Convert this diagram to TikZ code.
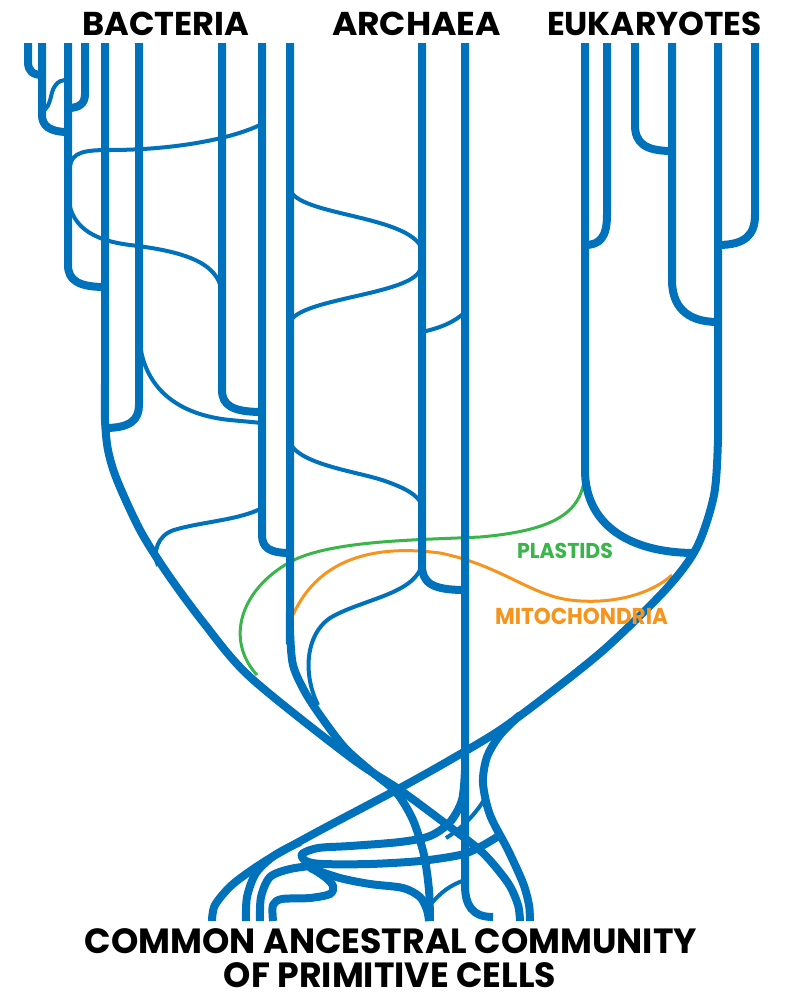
\documentclass[tikz,border=0pt]{standalone}
\usepackage{fontspec}
\newfontfamily\pop{Poppins}
\definecolor{tblue}{RGB}{0,114,188}
\definecolor{tgreen}{RGB}{57,181,74}
\definecolor{torange}{RGB}{247,148,29}
\newcommand{\fitw}[3]{\resizebox{#1}{\height}{\fontsize{#2}{#2}\selectfont #3}}
\begin{document}
\begin{tikzpicture}[x=1pt,y=-1pt,
  trunk/.style={draw=tblue,line width=8pt,line join=round},
  twig/.style={draw=tblue,line width=4pt,line join=round},
  plast/.style={draw=tgreen,line width=3pt},
  mito/.style={draw=torange,line width=3pt},
  lbl/.style={inner sep=0pt,font=\pop\bfseries}]
\fill[white] (0,0) rectangle (785,1002);
\useasboundingbox (0,0) rectangle (785,1002);

% plastids and mitochondria (behind)
\draw[plast] (585,472) .. controls (583,510) and (560,530) .. (480,537) .. controls (420,540) and (330,540) .. (290,562) .. controls (240,590) and (225,640) .. (257,675);
\draw[mito] (672,575) .. controls (650,595) and (610,605) .. (570,600) .. controls (530,595) and (500,565) .. (440,553) .. controls (380,545) and (320,555) .. (293,615);

% Bacteria
\draw[trunk] (28,43) -- (28,62) .. controls (28,71) and (33,75) .. (42,75);
\draw[trunk] (42,43) -- (42,115) .. controls (42,126) and (50,132) .. (68,132);
\draw[trunk] (85,43) -- (85,94) .. controls (85,103) and (80,108) .. (68,108);
\draw[trunk] (68,43) -- (68,265) .. controls (68,280) and (78,287) .. (105,287);
\draw[twig] (42,112) .. controls (52,106) and (50,92) .. (55,86) .. controls (58,81) and (62,80) .. (68,80);
\draw[trunk] plot[smooth] coordinates {(105,43) (105,380) (105,420) (108,450) (117,480) (140,530) (167,573) (203,622) (250,677) (350,757) (400,790) (450,827) (483,853) (508,883) (518,905) (520,921)};
\draw[trunk] (139,43) -- (139,405) .. controls (139,420) and (130,428) .. (105,428);
\draw[trunk] (222,43) -- (222,390) .. controls (222,405) and (232,412) .. (262,412);
\draw[trunk] (262,43) -- (262,535) .. controls (262,548) and (270,553) .. (290,553);
\draw[trunk] plot[smooth] coordinates {(290,43) (290,600) (290,630) (293,665) (305,692) (322,718) (345,748) (372,772) (396,792) (413,820) (424,855) (429,890) (430,921)};
\draw[twig] (70,166) .. controls (72,152) and (85,150) .. (110,150) .. controls (170,150) and (230,140) .. (262,124);
\draw[twig] (68,195) .. controls (70,225) and (90,240) .. (130,245) .. controls (190,252) and (222,265) .. (222,297);
\draw[twig] (139,335) .. controls (142,390) and (180,415) .. (230,420) -- (262,423);
\draw[twig] (262,508) .. controls (240,520) and (200,522) .. (174,530) .. controls (158,535) and (152,552) .. (158,566);

% Archaea
\draw[trunk] (422,43) -- (422,565) .. controls (422,583) and (432,590) .. (465,590);
\draw[trunk] (465,43) -- (465,885) .. controls (465,905) and (472,917) .. (493,917);
\draw[twig] (290,190) .. controls (300,215) and (400,215) .. (420,245) -- (420,270) .. controls (410,295) and (300,298) .. (290,322);
\draw[twig] (422,332) .. controls (440,328) and (455,322) .. (465,312);
\draw[twig] (290,443) .. controls (300,465) and (360,472) .. (385,481) .. controls (405,488) and (418,495) .. (422,505);
\draw[twig] (421,568) .. controls (410,595) and (360,600) .. (330,618) .. controls (305,635) and (303,675) .. (318,705);

% Eukaryotes
\draw[trunk] (585,43) -- (585,470) .. controls (585,525) and (630,553) .. (695,553);
\draw[trunk] (607,43) -- (607,215) .. controls (607,237) and (600,245) .. (585,245);
\draw[trunk] (635,43) -- (635,125) .. controls (635,143) and (645,151) .. (672,151);
\draw[trunk] (672,43) -- (672,280) .. controls (672,305) and (685,322) .. (718,322);
\draw[trunk] (755,43) -- (755,215) .. controls (755,235) and (745,245) .. (718,245);
\draw[trunk] plot[smooth] coordinates {(718,43) (718,400) (718,440) (714,495) (697,547) (667,588) (607,647) (550,693) (500,730) (450,760) (400,788) (317,832) (267,860) (233,884) (215,905) (212,921)};

% bottom tangle
\draw[trunk] plot[smooth] coordinates {(520,715) (500,735) (487,757) (483,783) (490,815) (508,850) (523,883) (529,905) (530,921)};
\draw[trunk] plot[smooth] coordinates {(465,770) (462,800) (450,822) (430,836) (400,842) (350,846) (318,848) (302,854) (306,861) (322,864) (370,864) (420,861) (460,855) (480,847) (497,837)};
\draw[trunk] plot[smooth] coordinates {(246,921) (247,897) (256,873) (275,855) (300,842)};
\draw[trunk] plot[smooth] coordinates {(260,921) (261,897) (270,877) (290,869) (318,865)};
\draw[trunk] plot[smooth] coordinates {(273,921) (273,905) (282,899) (310,898) (330,894) (333,886) (325,877) (308,866)};
\draw[trunk] plot[smooth] coordinates {(310,868) (340,878) (370,884) (403,888) (420,897) (427,910) (429,921)};
\draw[twig] (430,905) .. controls (440,893) and (450,885) .. (465,880);
\draw[twig] (486,797) .. controls (475,815) and (462,828) .. (446,838);

% labels
\node[lbl] (bact) at (166,24) {\fitw{167pt}{33}{BACTERIA}};
\node[lbl] (arch) at (416.5,24) {\fitw{169pt}{33}{ARCHAEA}};
\node[lbl] (euk) at (654.5,24) {\fitw{215pt}{33}{EUKARYOTES}};
\node[lbl,text=tgreen] (pl) at (565,550.5) {\fitw{96pt}{21.5}{PLASTIDS}};
\node[lbl,text=torange] (mi) at (581.5,616.5) {\fitw{173pt}{23}{MITOCHONDRIA}};
\node[lbl] (com1) at (391,941) {\fitw{612pt}{35}{COMMON ANCESTRAL COMMUNITY}};
\node[lbl] (com2) at (390,975) {\fitw{332pt}{35}{OF PRIMITIVE CELLS}};
\end{tikzpicture}
\end{document}
